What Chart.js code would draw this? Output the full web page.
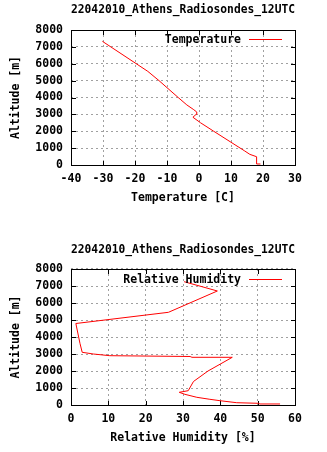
<!DOCTYPE html>
<html><head><meta charset="utf-8">
<script src="https://cdn.jsdelivr.net/npm/chart.js@4"></script>
<style>
html,body{margin:0;padding:0;background:#fff;width:327px;height:452px;overflow:hidden;}
canvas{position:absolute;left:0;}
#c1{top:0}
#c2{top:240px}
</style></head><body>
<canvas id="c1" width="327" height="240"></canvas>
<canvas id="c2" width="327" height="212"></canvas>
<script>
const chartTitle = '22042010_Athens_Radiosondes_12UTC';

const tempValues    = [19.2, 18.0, 18.0, 15.9, 14.3, 4.6, 0.5, -1.9, -0.9, -0.7, -1.8, -3.8, -6.5, -12.5, -16.0, -30.2];
const tempAltitudes = [60, 60, 490, 630, 830, 2000, 2500, 2830, 3000, 3140, 3300, 3560, 4000, 5000, 5550, 7330];

const rhValues    = [56.0, 50.6, 50.2, 44.4, 39.9, 37.2, 33.7, 30.5, 29.0, 31.4, 32.8, 36.7, 43.2, 32.4, 31.9, 10.4, 6.0, 3.0, 2.4, 1.3, 26.1, 39.2, 30.3];
const rhAltitudes = [60, 60, 100, 135, 253, 335, 453, 629, 747, 841, 1382, 2000, 2806, 2806, 2853, 2900, 3000, 3100, 3629, 4794, 5453, 6706, 7253];

const tempTicks = [-40, -30, -20, -10, 0, 10, 20, 30];
const rhTicks   = [0, 10, 20, 30, 40, 50, 60];
const altTicks  = [0, 1000, 2000, 3000, 4000, 5000, 6000, 7000, 8000];

const FONT = {family: "'DejaVu Sans Mono', monospace", size: 11.5, weight: 'bold', lineHeight: 1.2};

const framePlugin = {
  id: 'frame',
  beforeDatasetsDraw(chart) {
    const {ctx, chartArea: {left, right, top, bottom}} = chart;
    const xs = chart.scales.x, ys = chart.scales.y;
    ctx.save();
    ctx.strokeStyle = '#000';
    ctx.lineWidth = 1;
    ctx.setLineDash([]);
    ctx.strokeRect(left + 0.5, top + 0.5, right - left, bottom - top);
    ctx.beginPath();
    xs.ticks.forEach(t => {
      const p = Math.round(xs.getPixelForValue(t.value)) + 0.5;
      ctx.moveTo(p, bottom + 0.5); ctx.lineTo(p, bottom - 4);
      ctx.moveTo(p, top + 0.5); ctx.lineTo(p, top + 5);
    });
    ys.ticks.forEach(t => {
      const p = Math.round(ys.getPixelForValue(t.value)) + 0.5;
      ctx.moveTo(left + 0.5, p); ctx.lineTo(left + 5, p);
      ctx.moveTo(right + 0.5, p); ctx.lineTo(right - 4, p);
    });
    ctx.stroke();
    ctx.restore();
  },
  afterDatasetsDraw(chart) {
    const {ctx} = chart;
    const ds = chart.data.datasets[0];
    ctx.save();
    ctx.font = `bold ${FONT.size}px ${FONT.family}`;
    ctx.fillStyle = '#000';
    ctx.textAlign = 'right';
    ctx.textBaseline = 'middle';
    ctx.fillText(ds.label, 241, 40);
    ctx.strokeStyle = ds.borderColor;
    ctx.lineWidth = 1;
    ctx.beginPath();
    ctx.moveTo(249, 39.5); ctx.lineTo(282, 39.5);
    ctx.stroke();
    ctx.restore();
  }
};

function makeChart(id, label, xs, ys, xTicks, xTitle, H, areaTop) {
  const points = xs.map((v, i) => ({x: v, y: ys[i]}));
  return new Chart(document.getElementById(id), {
    type: 'scatter',
    data: {datasets: [{
      label: label,
      data: points,
      showLine: true,
      borderColor: '#ff0000',
      backgroundColor: '#ff0000',
      borderWidth: 1,
      pointRadius: 0,
      tension: 0
    }]},
    options: {
      responsive: false,
      animation: false,
      events: [],
      devicePixelRatio: 1,
      layout: {padding: {left: 0, right: 32, top: 0, bottom: 0}},
      plugins: {
        legend: {display: false},
        tooltip: {enabled: false},
        title: {
          display: true,
          text: chartTitle,
          fullSize: false,
          color: '#000',
          font: FONT,
          padding: {top: 3.1, bottom: areaTop - 3.1 - 13.8}
        }
      },
      scales: {
        x: {
          type: 'linear',
          min: xTicks[0], max: xTicks[xTicks.length - 1],
          afterBuildTicks: s => { s.ticks = xTicks.map(v => ({value: v})); },
          afterFit: s => { s.height = H - 165; },
          ticks: {color: '#000', font: FONT, padding: 7.5, maxRotation: 0, autoSkip: false,
                  callback: v => String(v)},
          grid: {color: '#a0a0a0', lineWidth: 1, drawTicks: false},
          border: {display: false, dash: [2, 3]},
          title: {display: true, text: xTitle, color: '#000', font: FONT,
                  padding: {top: 0, bottom: H - 197.7 - 6.9}}
        },
        y: {
          type: 'linear',
          min: 0, max: 8000,
          afterBuildTicks: s => { s.ticks = altTicks.map(v => ({value: v})); },
          afterFit: s => { s.width = 71; },
          ticks: {color: '#000', font: FONT, padding: 8, autoSkip: false,
                  callback: v => String(v)},
          grid: {color: '#a0a0a0', lineWidth: 1, drawTicks: false},
          border: {display: false, dash: [2, 3]},
          title: {display: true, text: 'Altitude [m]', color: '#000', font: FONT,
                  padding: {top: 9.1, bottom: 0}}
        }
      }
    },
    plugins: [framePlugin]
  });
}

makeChart('c1', 'Temperature', tempValues, tempAltitudes, tempTicks, 'Temperature [C]', 240, 30);
makeChart('c2', 'Relative Humidity', rhValues, rhAltitudes, rhTicks, 'Relative Humidity [%]', 212, 29);
</script>
</body></html>
